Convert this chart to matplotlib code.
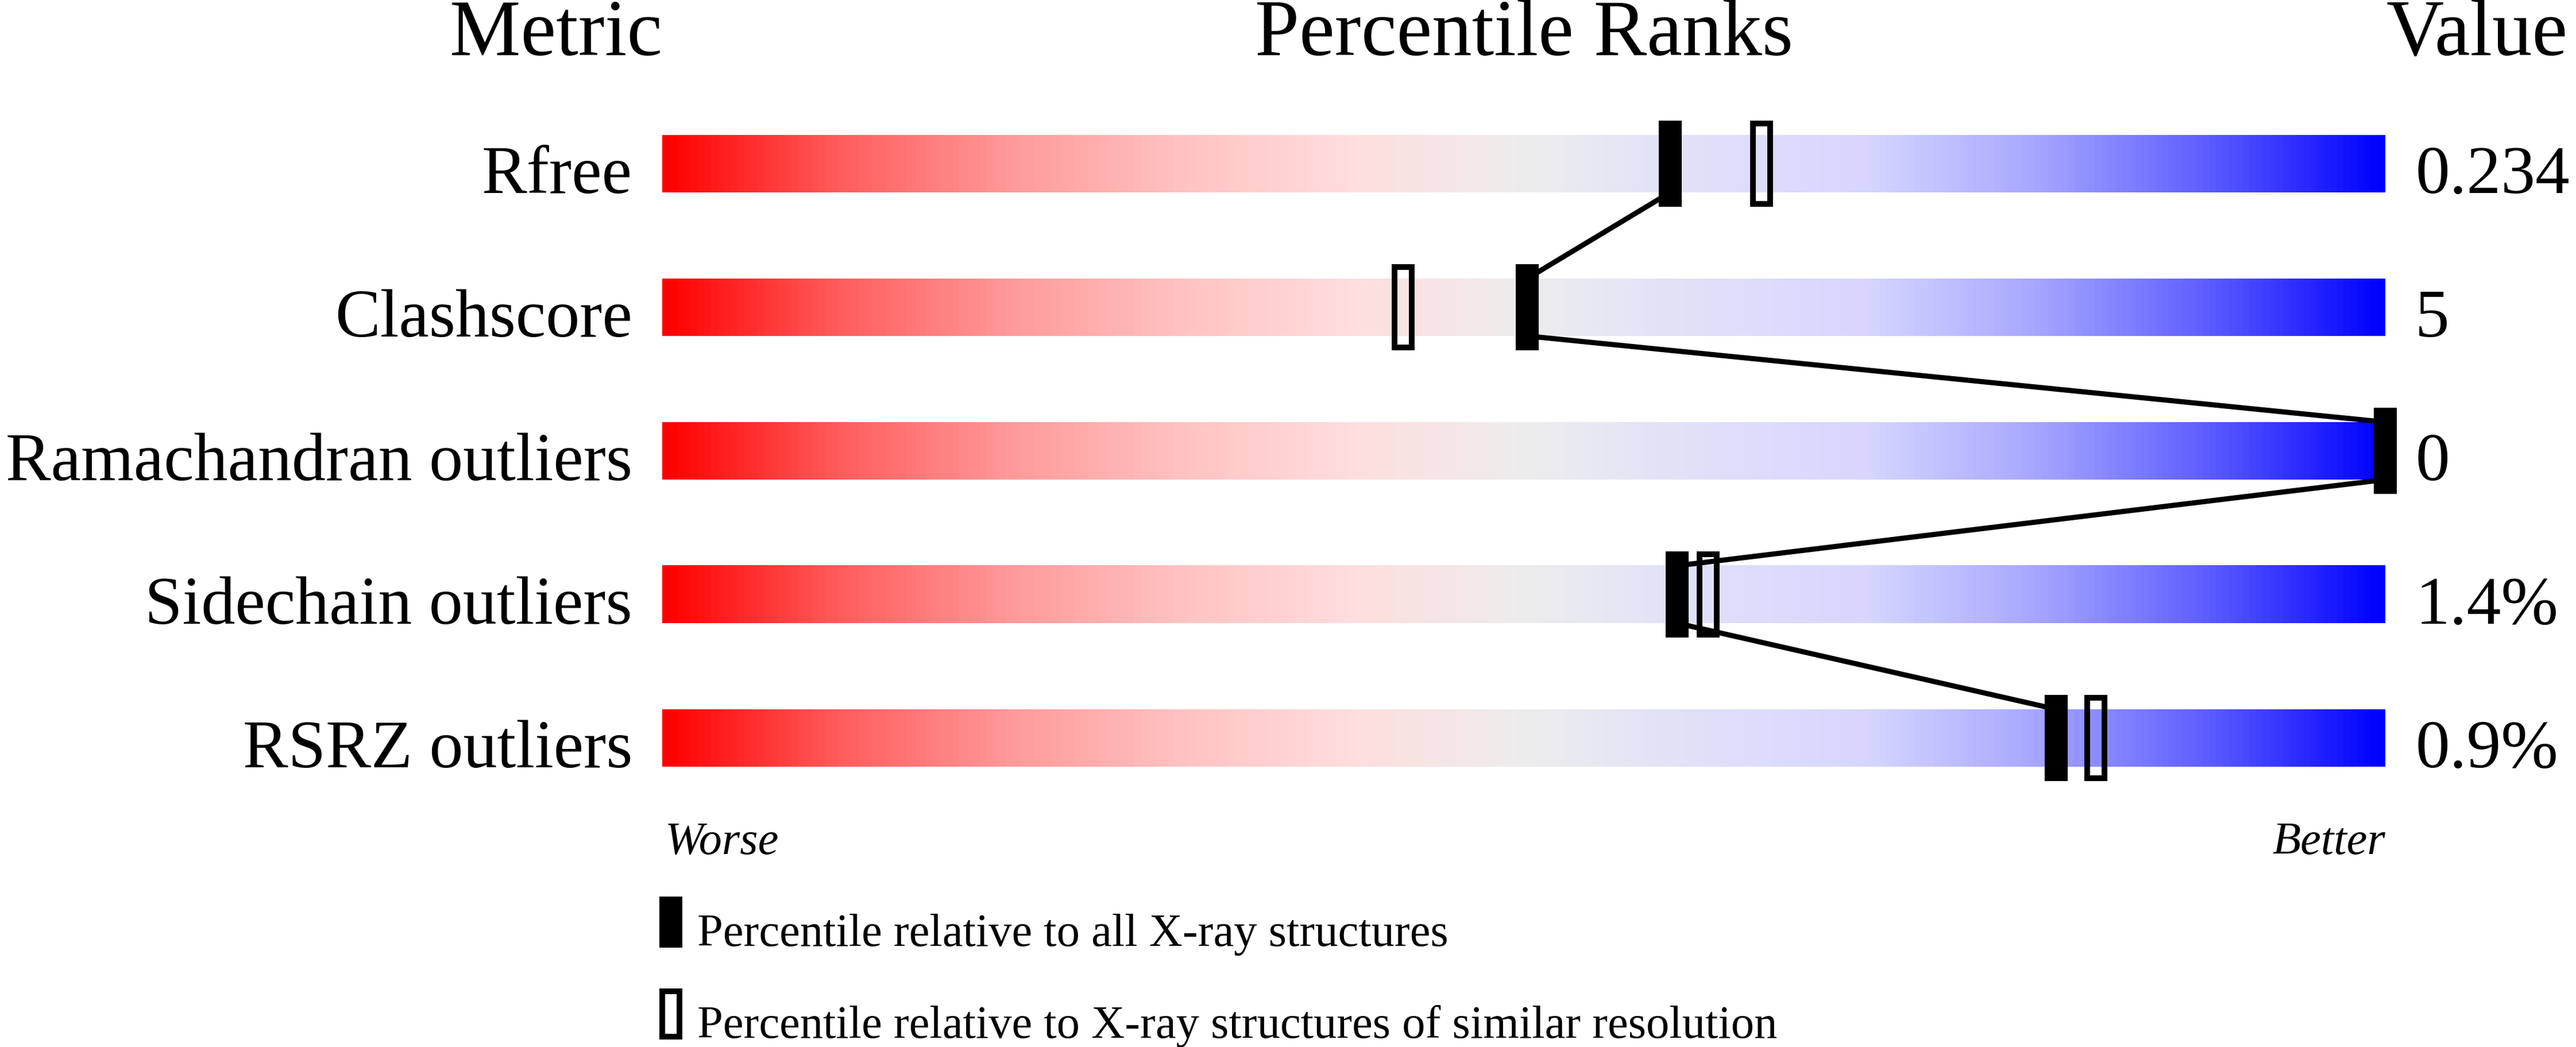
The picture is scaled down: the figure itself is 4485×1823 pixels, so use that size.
import numpy as np
import matplotlib
matplotlib.use('Agg')
import matplotlib.pyplot as plt
from matplotlib.colors import LinearSegmentedColormap
from matplotlib.patches import Rectangle

plt.rcParams['font.family'] = ['Liberation Serif', 'DejaVu Serif']

# data
metrics = ['Rfree', 'Clashscore', 'Ramachandran outliers', 'Sidechain outliers', 'RSRZ outliers']
values = ['0.234', '5', '0', '1.4%', '0.9%']
pct_all = [58.5, 50.2, 100.0, 58.9, 80.9]      # filled marker
pct_similar = [63.8, 43.0, 100.0, 60.7, 83.2]  # open marker
legend_labels = ['Percentile relative to all X-ray structures',
                 'Percentile relative to X-ray structures of similar resolution']

# red -> grey -> blue scale of the bars
grad = LinearSegmentedColormap.from_list('worse_better', [
    (0.00, (1.00, 0.00, 0.00)),
    (0.10, (1.00, 0.36, 0.36)),
    (0.20, (1.00, 0.60, 0.60)),
    (0.30, (1.00, 0.76, 0.76)),
    (0.40, (1.00, 0.87, 0.87)),
    (0.50, (0.93, 0.93, 0.93)),
    (0.60, (0.88, 0.88, 0.98)),
    (0.70, (0.84, 0.84, 1.00)),
    (0.80, (0.65, 0.65, 1.00)),
    (0.90, (0.36, 0.36, 1.00)),
    (1.00, (0.00, 0.00, 1.00)),
])

W, H, DPI = 4485, 1824, 100
fig = plt.figure(figsize=(W / DPI, H / DPI), dpi=DPI)
ax = fig.add_axes([0, 0, 1, 1])

# x in percent (bar = 0..100), y in rows (row pitch 250px)
px = 30.0     # pixels per percent
py = 250.0    # pixels per row
x0, y0 = 1153, 286
ax.set_xlim(-x0 / px, (W - x0) / px)
ax.set_ylim((H - y0) / py, -y0 / py)
ax.axis('off')

bar_h = 0.4
mk_h = 0.6
mk_w = 40 / px
lw_px = 10 * 72 / DPI
n = len(metrics)

ramp = np.linspace(0, 1, 600).reshape(1, -1)
for i in range(n):
    ax.imshow(ramp, cmap=grad, aspect='auto', interpolation='bilinear',
              extent=[0, 100, i + bar_h / 2, i - bar_h / 2], zorder=1)
    ax.text(-52 / px, i + bar_h / 2, metrics[i], ha='right', va='baseline', fontsize=85)
    ax.text(100 + 52 / px, i + bar_h / 2, values[i], ha='left', va='baseline', fontsize=86)

# connecting line between filled markers
for i in range(n - 1):
    ax.plot([pct_all[i], pct_all[i + 1]], [i + bar_h / 2, i + 1 - bar_h / 2],
            color='black', lw=9 * 72 / DPI, solid_capstyle='butt', zorder=3)

for i in range(n):
    b = 5 / px
    ax.add_patch(Rectangle((pct_similar[i] - mk_w / 2 + b, i - mk_h / 2 + 5 / py),
                           mk_w - 2 * b, mk_h - 10 / py, facecolor='none',
                           edgecolor='black', lw=lw_px, zorder=4))
    ax.add_patch(Rectangle((pct_all[i] - mk_w / 2, i - mk_h / 2), mk_w, mk_h,
                           facecolor='black', edgecolor='none', zorder=5))

# headers
hy = (96 - y0) / py
ax.text(0, hy, 'Metric', ha='right', va='baseline', fontsize=100)
ax.text((2185 - x0) / px, hy, 'Percentile Ranks', ha='left', va='baseline', fontsize=100)
ax.text(100 + 2 / px, hy, 'Value', ha='left', va='baseline', fontsize=100)

# worse / better
wy = (1487 - y0) / py
ax.text(5 / px, wy, 'Worse', ha='left', va='baseline', fontsize=58, style='italic')
ax.text(100, wy, 'Better', ha='right', va='baseline', fontsize=58, style='italic')

# legend
leg_h = 89 / py
leg_x = (1168 - x0) / px
for k, (lab, filled) in enumerate(zip(legend_labels, [True, False])):
    cy = (1606.5 + 160 * k - y0) / py
    if filled:
        ax.add_patch(Rectangle((leg_x - mk_w / 2, cy - leg_h / 2), mk_w, leg_h,
                               facecolor='black', edgecolor='none', clip_on=False))
    else:
        b = 5 / px
        ax.add_patch(Rectangle((leg_x - mk_w / 2 + b, cy - leg_h / 2 + 5 / py),
                               mk_w - 2 * b, leg_h - 10 / py, facecolor='none',
                               edgecolor='black', lw=lw_px, clip_on=False))
    ax.text((1214 - x0) / px, cy + 40.5 / py, lab, ha='left', va='baseline', fontsize=58)

fig.savefig('out.png', dpi=DPI)
